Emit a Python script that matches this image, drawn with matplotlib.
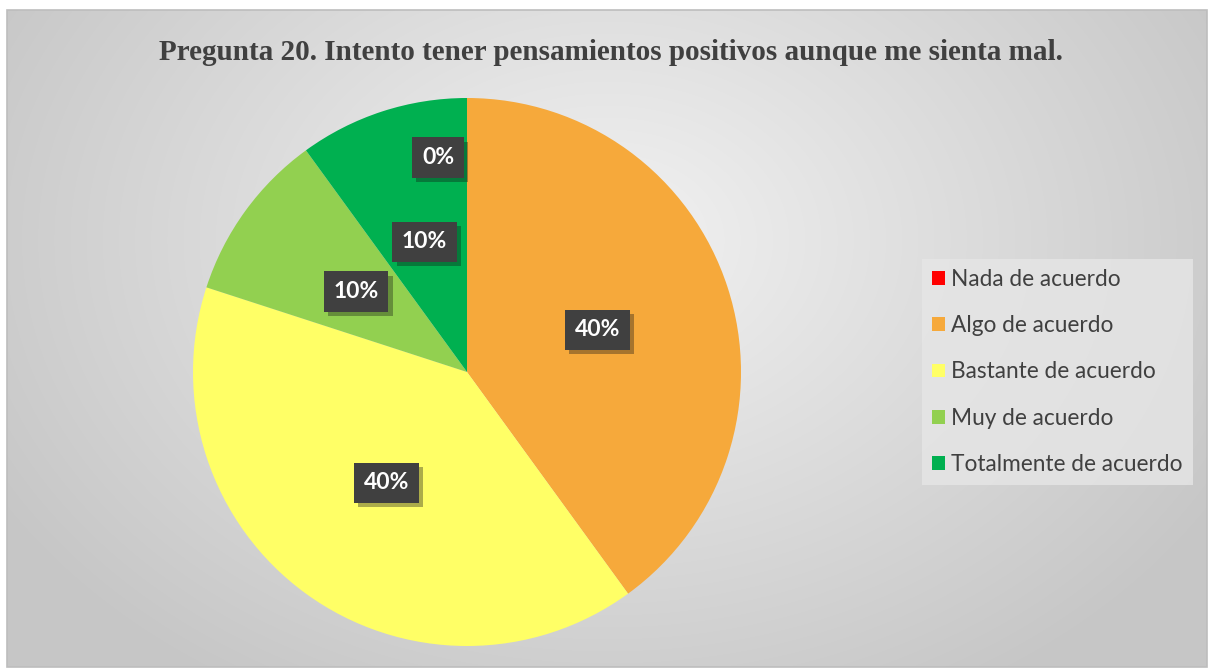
import numpy as np
import matplotlib.pyplot as plt
from matplotlib.patches import Rectangle
from matplotlib import patheffects as pe

# datos de la encuesta
categorias = ["Nada de acuerdo", "Algo de acuerdo", "Bastante de acuerdo",
              "Muy de acuerdo", "Totalmente de acuerdo"]
porcentajes = [0, 40, 40, 10, 10]
colores = ["#FF0000", "#F6A93B", "#FFFF66", "#92D050", "#00B050"]
titulo = "Pregunta 20. Intento tener pensamientos positivos aunque me sienta mal."

W, H = 1210, 670
fig = plt.figure(figsize=(W / 100, H / 100), dpi=100)
fig.patch.set_facecolor("white")

# fondo con degradado radial
bg = fig.add_axes([7 / W, 3 / H, 1200 / W, 657 / H])
yy, xx = np.mgrid[0:657, 0:1200]
d = np.sqrt(((xx - 600) / 700.0) ** 2 + ((yy - 230) / 520.0) ** 2)
d = np.clip(d, 0, 1)
val = 0.95 - 0.17 * d
bg.imshow(np.dstack([val, val, val]), aspect="auto", extent=[0, 1, 0, 1])
bg.set_axis_off()
fig.patches.append(Rectangle((7 / W, 3 / H), 1200 / W, 657 / H,
                             transform=fig.transFigure, fill=False,
                             edgecolor="#bdbdbd", linewidth=1.2))

R = 274
cx, cy = 467, 372
ax = fig.add_axes([(cx - R) / W, (H - cy - R) / H, 2 * R / W, 2 * R / H])
wedges, texts, autotexts = ax.pie(
    porcentajes, colors=colores, startangle=90, counterclock=False,
    autopct=lambda p: f"{p:.0f}%", pctdistance=0.5,
    wedgeprops=dict(linewidth=0),
    textprops=dict(color="white", fontsize=16.5, fontweight="bold",
                   family=["Lato", "DejaVu Sans"]))
ax.set_xlim(-1, 1)
ax.set_ylim(-1, 1)

# la etiqueta del 0% se desplaza como en el original
ang = np.deg2rad(97.7)
autotexts[0].set_position((0.79 * np.cos(ang), 0.79 * np.sin(ang)))

for t in autotexts:
    t.set_bbox(dict(boxstyle="square,pad=0.42", facecolor="#404040",
                    edgecolor="none"))
    t.get_bbox_patch().set_path_effects(
        [pe.SimplePatchShadow(offset=(3, -3), alpha=0.35), pe.Normal()])

fig.text(611 / W, 1 - 52 / H, titulo, ha="center", va="center",
         fontsize=21, fontweight="bold", color="#404040",
         family="Liberation Serif")

leg = fig.legend(wedges, categorias, loc="center left",
                 bbox_to_anchor=(922 / W, 1 - 372 / H),
                 frameon=True, fancybox=False, fontsize=16.3,
                 handlelength=0.55, handleheight=0.55, handletextpad=0.3,
                 labelspacing=1.12, borderpad=0.45, borderaxespad=0)
leg.get_frame().set_facecolor("#e6e6e6")
leg.get_frame().set_edgecolor("none")
for t in leg.get_texts():
    t.set_color("#404040")
    t.set_family(["Lato", "DejaVu Sans"])

fig.savefig("out.png", dpi=100)
